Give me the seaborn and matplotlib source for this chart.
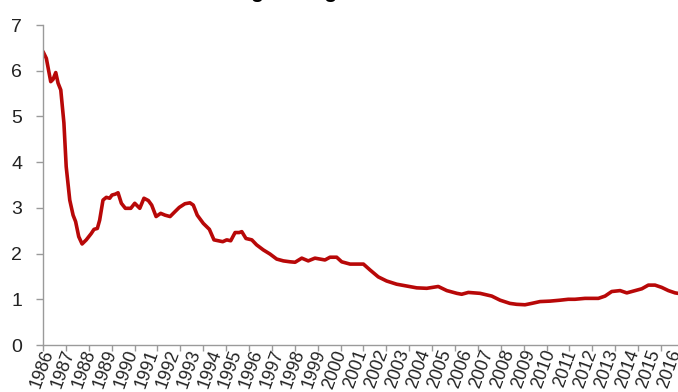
import numpy as np
import pandas as pd
import matplotlib
matplotlib.use("Agg")
import matplotlib.pyplot as plt
import seaborn as sns

# ---- data ----
years = [1986.00, 1986.16, 1986.37, 1986.48, 1986.61, 1986.72, 1986.85, 1987.00, 1987.11, 1987.28,
         1987.44, 1987.56, 1987.71, 1987.87, 1988.07, 1988.31, 1988.44, 1988.60, 1988.71, 1988.87,
         1989.03, 1989.19, 1989.30, 1989.46, 1989.59, 1989.75, 1989.94, 1990.20, 1990.39, 1990.63,
         1990.83, 1991.04, 1991.20, 1991.41, 1991.63, 1991.84, 1992.08, 1992.32, 1992.52, 1992.79,
         1993.03, 1993.19, 1993.38, 1993.67, 1993.96, 1994.18, 1994.39, 1994.60, 1994.79, 1994.98,
         1995.19, 1995.39, 1995.51, 1995.71, 1995.99, 1996.22, 1996.54, 1996.86, 1997.18, 1997.50,
         1997.82, 1998.06, 1998.38, 1998.69, 1999.01, 1999.49, 1999.73, 2000.05, 2000.29, 2000.69,
         2001.33, 2001.65, 2002.04, 2002.44, 2002.92, 2003.40, 2003.88, 2004.36, 2004.91, 2005.32,
         2005.80, 2006.03, 2006.35, 2006.91, 2007.47, 2007.87, 2008.34, 2008.66, 2009.06, 2009.38,
         2009.78, 2010.26, 2010.74, 2011.13, 2011.45, 2011.93, 2012.57, 2012.89, 2013.21, 2013.61,
         2013.93, 2014.33, 2014.65, 2014.96, 2015.28, 2015.60, 2015.92, 2016.24, 2016.38]
values = [6.42, 6.27, 5.76, 5.81, 5.96, 5.73, 5.58, 4.86, 3.90, 3.17,
          2.84, 2.70, 2.37, 2.21, 2.30, 2.44, 2.53, 2.55, 2.73, 3.17,
          3.23, 3.21, 3.28, 3.30, 3.33, 3.10, 2.99, 2.99, 3.10, 2.99,
          3.21, 3.16, 3.06, 2.81, 2.88, 2.84, 2.81, 2.92, 3.01, 3.09,
          3.11, 3.06, 2.84, 2.66, 2.53, 2.30, 2.28, 2.26, 2.30, 2.28,
          2.46, 2.46, 2.48, 2.33, 2.30, 2.19, 2.08, 1.99, 1.88, 1.84,
          1.82, 1.81, 1.90, 1.84, 1.90, 1.86, 1.92, 1.92, 1.82, 1.77,
          1.77, 1.64, 1.49, 1.40, 1.33, 1.29, 1.25, 1.24, 1.28, 1.19,
          1.13, 1.11, 1.15, 1.13, 1.07, 0.98, 0.91, 0.89, 0.88, 0.91,
          0.95, 0.96, 0.98, 1.00, 1.00, 1.02, 1.02, 1.07, 1.17, 1.19,
          1.14, 1.19, 1.23, 1.31, 1.31, 1.26, 1.19, 1.14, 1.13]
label_years = list(range(1986, 2017))
y_ticks = [0, 1, 2, 3, 4, 5, 6, 7]
title_text = "Rolling average"

df = pd.DataFrame({"year": years, "value": values})

sns.set_theme(style="white")
plt.rcParams["font.family"] = ["Liberation Sans Narrow", "Liberation Sans", "DejaVu Sans"]

fig = plt.figure(figsize=(6.78, 3.92), dpi=100)
ax = fig.add_axes([43 / 678, 1 - 345 / 392, 1 - 43 / 678, (345 - 25) / 392])

sns.lineplot(data=df, x="year", y="value", ax=ax, color="#B80808", linewidth=2.6)

ax.set_xlim(1986, 2016.38)
ax.set_ylim(0, 7)
ax.set_xlabel("")
ax.set_ylabel("")

# y axis
ax.set_yticks(y_ticks)
ax.set_yticklabels([str(t) for t in y_ticks], fontsize=14, color="#222222")
ax.tick_params(axis="y", which="major", length=5, width=1, color="#9a9a9a", pad=10, left=True)

# x axis: labels every year, tick marks every 400 days
ax.set_xticks([y + 0.3 for y in label_years])
ax.set_xticklabels([str(y) for y in label_years], rotation=70, fontsize=12.8,
                   color="#222222", ha="right", va="center", rotation_mode="anchor")
ax.tick_params(axis="x", which="major", length=0, pad=4)
step = 400 / 365.25
ax.set_xticks(np.arange(1986, 2016.5, step), minor=True)
ax.tick_params(axis="x", which="minor", length=4, width=1, color="#9a9a9a", bottom=True)

for s in ["top", "right"]:
    ax.spines[s].set_visible(False)
for s in ["left", "bottom"]:
    ax.spines[s].set_color("#9a9a9a")
    ax.spines[s].set_linewidth(1)

# cropped title (only descenders visible, as in the reference)
fig.text(0.285, 1.006, title_text, fontsize=15, fontweight="bold", color="#000000",
         ha="left", va="baseline", family=["Liberation Sans", "DejaVu Sans"])

fig.savefig("out.png", dpi=100)
